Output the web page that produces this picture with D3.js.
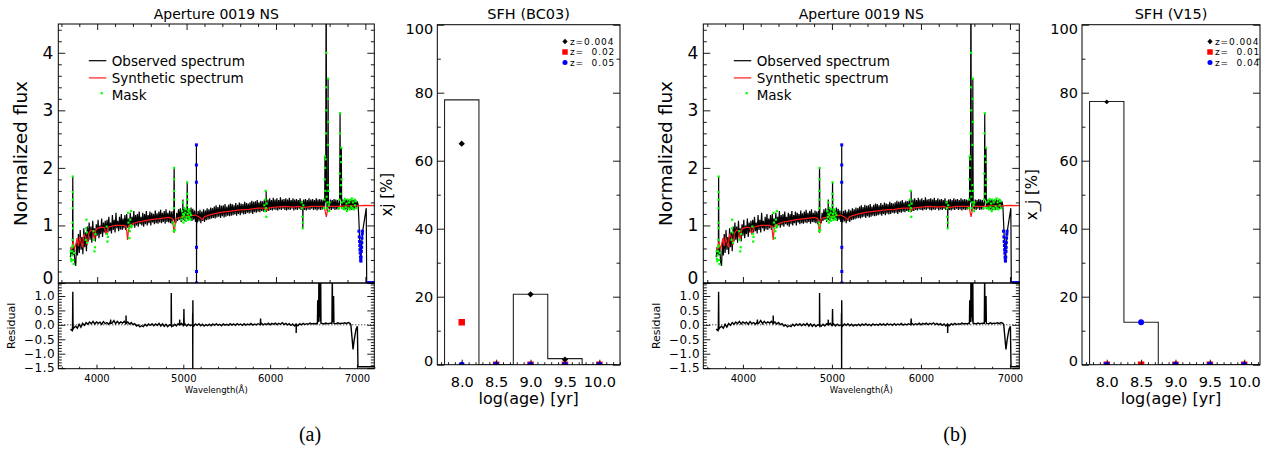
<!DOCTYPE html>
<html>
<head>
<meta charset="utf-8">
<script src="https://cdn.jsdelivr.net/npm/d3@7"></script>
<style>
  body { margin: 0; background: #fff; }
  svg { display: block; }
  svg text { font-family: "DejaVu Sans", sans-serif; fill: #000; }
</style>
</head>
<body>
<div id="chart"></div>
<script>
// observed spectrum, one value every 10 A starting at 3700 A
const obsStart = 3700, obsStep = 10;
const obsFlux = [
  0.45,0.62,0.50,0.48,0.62,0.35,0.30,0.72,0.48,0.85,0.52,0.92,0.58,0.80,0.50,0.95,0.62,0.88,0.55,0.98,
  0.72,1.05,0.75,0.98,0.70,1.08,0.80,0.95,0.72,1.02,0.82,1.10,0.78,1.00,0.85,1.12,0.80,1.05,0.88,1.08,
  0.85,1.10,0.88,1.15,0.90,1.05,0.86,1.18,0.92,1.10,0.88,1.22,0.95,1.08,0.90,1.15,0.93,1.20,0.92,1.12,
  0.95,1.18,0.92,1.20,0.96,1.12,0.98,1.22,0.95,1.15,1.00,1.25,0.96,1.18,1.00,1.20,0.98,1.24,1.02,1.15,
  1.00,1.22,0.98,1.20,1.02,1.25,1.00,1.18,1.04,1.24,1.00,1.22,1.05,1.20,1.02,1.26,1.04,1.21,1.03,1.24,
  1.05,1.27,1.04,1.22,1.06,1.25,1.03,1.28,1.06,1.22,1.05,1.26,1.04,1.24,1.02,1.25,1.90,1.10,1.04,1.22,
  1.08,1.28,1.10,1.30,1.06,1.26,1.10,1.32,1.08,1.28,1.12,1.30,1.09,1.27,1.10,1.31,1.08,1.29,1.10,1.26,
  1.06,1.28,1.05,1.25,1.07,1.27,1.04,1.24,1.08,1.28,1.06,1.26,1.09,1.30,1.10,1.28,1.11,1.31,1.12,1.30,
  1.13,1.33,1.12,1.35,1.14,1.32,1.15,1.36,1.13,1.34,1.16,1.35,1.14,1.37,1.15,1.33,1.17,1.36,1.16,1.38,
  1.17,1.37,1.18,1.35,1.19,1.39,1.17,1.36,1.20,1.40,1.18,1.38,1.21,1.37,1.19,1.41,1.20,1.39,1.22,1.38,
  1.21,1.40,1.22,1.43,1.20,1.41,1.23,1.42,1.22,1.44,1.24,1.40,1.23,1.43,1.25,1.42,1.24,1.45,1.25,1.42,
  1.26,1.45,1.25,1.47,1.27,1.44,1.26,1.48,1.28,1.45,1.27,1.47,1.26,1.44,1.28,1.49,1.27,1.45,1.29,1.46,
  1.27,1.47,1.26,1.45,1.28,1.48,1.27,1.44,1.29,1.47,1.26,1.45,1.28,1.46,1.27,1.44,1.29,1.47,1.27,1.43,
  1.28,1.45,1.27,1.46,1.26,1.44,1.28,1.47,1.27,1.45,1.29,1.46,1.27,1.44,1.28,1.47,1.26,1.45,1.28,1.46,
  1.27,1.45,1.28,1.44,1.30,1.40,4.60,1.40,1.60,1.35,1.28,1.45,1.27,1.44,1.29,1.46,1.27,1.45,1.28,1.44,
  1.28,1.40,1.60,2.00,1.30,1.45,1.27,1.46,1.28,1.45,1.27,1.44,1.29,1.46,1.27,1.45,1.28,1.44,1.29,1.45,
  1.30,1.42,1.35
];
// emission lines, bad pixel and the red end of the observed spectrum
const obsLines = [
  [3724,0.60],[3727,1.85],[3730,0.50],
  [4857,1.10],[4861,2.00],[4865,1.05],
  [4956,1.15],[4959,1.45],[4962,1.10],
  [5004,1.20],[5007,1.75],[5010,1.15],
  [5108,1.20],[5110,2.40],[5111,0.00],[5113,1.20],
  [5887,1.30],[5890,1.60],[5893,1.25],
  [6297,1.30],[6300,0.95],[6303,1.30],
  [6545,1.35],[6548,2.20],[6552,1.50],[6557,2.20],[6563,4.60],[6566,1.40],
  [6572,1.25],[6578,1.60],[6583,3.55],[6587,1.30],
  [6712,1.35],[6717,2.95],[6722,1.50],[6727,1.45],[6731,2.35],[6735,1.30],
  [6930,1.00],[6940,0.60],[6950,0.40],[6960,0.70],[6970,0.90],[6980,1.00],
  [6990,1.10],[7000,1.20],[7010,1.30],[7015,0.00],[7200,0.00]
];
// synthetic spectrum
const synSpec = [
  [3700,0.62],[3715,0.58],[3730,0.72],[3745,0.60],[3760,0.66],[3775,0.78],[3790,0.64],
  [3805,0.80],[3820,0.70],[3835,0.62],[3850,0.84],[3870,0.80],[3889,0.66],[3905,0.86],
  [3930,0.92],[3950,0.90],[3970,0.74],[3985,0.92],[4000,0.95],[4050,0.97],[4080,0.96],
  [4101,0.84],[4120,0.97],[4200,1.00],[4250,1.00],[4300,1.00],[4325,0.98],[4340,0.75],
  [4355,1.00],[4400,1.03],[4450,1.06],[4500,1.07],[4600,1.10],[4700,1.12],[4800,1.14],
  [4840,1.12],[4861,0.87],[4880,1.12],[4950,1.15],[5000,1.16],[5050,1.17],[5100,1.18],
  [5150,1.14],[5175,1.10],[5200,1.15],[5250,1.18],[5300,1.20],[5400,1.23],[5500,1.25],
  [5600,1.27],[5700,1.28],[5800,1.30],[5870,1.30],[5890,1.26],[5910,1.30],[6000,1.32],
  [6100,1.33],[6200,1.32],[6250,1.33],[6300,1.31],[6400,1.33],[6500,1.33],[6540,1.33],
  [6563,1.15],[6585,1.33],[6700,1.33],[6800,1.34],[6900,1.34],[7000,1.35],[7200,1.34]
];
// masked pixels (green)
const maskPts = [
  [3705,0.55],[3708,0.42],[3712,0.38],[3716,0.48],[3719,0.62],[3722,0.55],[3725,0.75],
  [3726,1.05],[3727,1.30],[3727,1.58],[3727,1.85],[3728,1.45],[3729,0.95],[3731,0.65],
  [3734,0.40],[3737,0.33],[3740,0.52],
  [3872,0.75],[3876,0.95],[3880,1.10],[3884,0.88],[3888,0.70],
  [3960,0.90],[3965,0.75],[3970,0.55],[3975,0.62],[3980,0.85],
  [4105,0.98],[4110,0.85],[4115,0.72],[4120,0.80],
  [4345,1.22],[4350,1.05],[4355,0.95],[4360,0.78],[4365,0.90],[4370,1.10],[4375,1.00],
  [4380,1.25],[4385,0.98],
  [4852,1.05],[4856,0.90],[4859,1.30],[4860,1.60],[4861,1.80],[4861,2.00],[4862,1.45],
  [4864,1.00],[4868,0.92],
  [4945,1.10],[4950,1.25],[4955,1.15],[4958,1.40],[4960,1.20],[4965,1.05],[4970,1.18],
  [4975,1.30],[4980,1.12],[4985,1.22],[4990,1.08],[4995,1.28],[5000,1.15],[5004,1.35],
  [5006,1.55],[5007,1.75],[5008,1.45],[5012,1.20],[5016,1.10],[5020,1.25],[5025,1.15],
  [5030,1.28],[5035,1.12],[5040,1.22],[5045,1.10],[5050,1.18],
  [5870,1.35],[5875,1.25],[5880,1.45],[5884,1.60],[5888,1.30],[5892,1.15],[5896,1.38],
  [6288,1.40],[6292,1.30],[6296,1.15],[6300,0.95],[6303,1.05],[6306,1.35],
  [6535,1.30],[6540,1.45],[6545,1.80],[6548,2.20],[6550,2.00],[6553,1.60],[6556,2.15],
  [6560,2.60],[6562,3.40],[6563,4.00],[6565,3.00],[6567,1.50],[6570,1.30],[6575,1.40],
  [6578,1.70],[6580,2.40],[6582,3.20],[6583,3.55],[6585,2.80],[6587,1.60],[6590,1.35],
  [6595,1.25],[6600,1.40],
  [6705,1.30],[6710,1.45],[6713,1.90],[6716,2.60],[6717,2.95],[6719,2.20],[6722,1.55],
  [6726,1.70],[6729,2.10],[6731,2.35],[6733,1.80],[6736,1.40],[6740,1.30],
  [6750,1.30],[6758,1.42],[6765,1.28],[6772,1.46],[6780,1.32],[6788,1.38],[6795,1.25],
  [6802,1.45],[6810,1.30],[6818,1.40],[6825,1.28],[6832,1.44],[6840,1.33],[6848,1.47],
  [6855,1.30],[6862,1.40],[6870,1.28],[6878,1.45],[6885,1.35],[6892,1.42],[6900,1.30]
];
// flagged pixels (blue)
const flagPts = [
  [5110,2.40],[5110,2.05],[5110,1.75],[5111,0.62],[5111,0.20],[5111,0.00],
  [6928,0.90],[6932,0.80],[6935,0.72],[6938,0.65],[6940,0.58],[6942,0.52],[6945,0.45],
  [6948,0.40],[6950,0.38],[6953,0.45],[6956,0.55],[6958,0.62],[6960,0.70],[6962,0.78],
  [6965,0.85],[6968,0.90],
  [7022,0],[7030,0],[7038,0],[7046,0],[7054,0],[7062,0],[7070,0],[7078,0],[7086,0],
  [7094,0],[7102,0],[7110,0],[7118,0],[7126,0]
];
// residual, one value every 20 A starting at 3700 A
const resStart = 3700, resStep = 20;
const resFlux = [
  -0.15,-0.20,-0.10,-0.05,-0.12,0.02,-0.08,0.05,-0.02,0.08,
  0.02,0.10,0.04,0.12,0.03,0.10,0.05,0.09,0.02,0.11,
  0.04,0.08,0.02,0.10,0.06,0.15,0.04,0.12,0.05,0.10,
  0.06,0.12,0.08,0.10,0.03,0.08,0.01,0.04,-0.04,0.00,
  -0.07,-0.03,-0.06,0.02,-0.04,0.03,-0.02,0.04,-0.03,0.03,
  -0.02,0.05,-0.04,0.03,-0.05,0.02,-0.06,0.00,-0.03,-0.05,
  0.02,-0.04,0.04,-0.02,0.05,-0.03,0.03,-0.04,0.02,-0.03,
  0.00,-0.04,0.03,-0.02,0.04,-0.03,0.02,-0.04,0.01,-0.03,
  0.02,-0.03,0.03,-0.02,0.04,-0.02,0.02,-0.03,0.03,-0.01,
  0.02,-0.02,0.04,-0.01,0.03,-0.02,0.04,0.00,0.03,-0.02,
  0.04,-0.01,0.03,0.00,0.05,-0.01,0.03,0.00,0.04,0.01,
  0.05,0.00,0.04,0.01,0.06,0.00,0.05,0.02,0.06,0.01,
  0.05,0.02,0.07,0.01,0.05,0.00,0.04,-0.02,0.03,-0.04,
  0.02,-0.03,0.04,0.00,0.05,0.01,0.04,0.02,0.06,0.03,
  0.05,0.03,0.06,0.10,0.12,0.05,0.03,0.06,0.04,0.05,
  0.06,0.20,0.05,0.04,0.07,0.04,0.06,0.05,0.07,0.04,
  0.08
];
const resLines = [
  [3724,-0.05],[3727,1.15],[3730,-0.15],
  [4160,0.04],[4163,0.18],[4166,0.05],
  [4337,0.05],[4340,0.32],[4343,0.05],
  [4858,-0.02],[4861,1.10],[4864,-0.03],
  [4956,0.00],[4959,0.18],[4962,0.00],
  [5004,0.00],[5007,0.55],[5010,0.00],
  [5106,0.00],[5108,0.42],[5109,-1.55],[5110,0.85],[5112,0.00],
  [5887,0.02],[5890,0.22],[5893,0.02],
  [6297,0.02],[6300,-0.28],[6303,0.02],
  [6545,0.05],[6548,0.85],[6551,0.10],[6558,0.20],[6561,1.80],[6565,1.80],[6568,0.30],
  [6578,0.30],[6582,1.80],[6586,0.05],
  [6712,0.05],[6716,1.80],[6720,0.20],[6727,0.10],[6731,1.00],[6735,0.05],
  [6920,0.05],[6930,0.00],[6945,-0.50],[6955,-0.85],[6965,-0.60],[6975,-0.40],
  [6990,-0.15],[7005,-0.05],[7012,-1.45],[7200,-1.45]
];

// star formation history, light fractions in %
const ageBins = [8.0, 8.5, 9.0, 9.5, 10.0];
const sfhTotalA = [77.9, 0, 20.7, 1.8, 0];
const sfhZ1A = [65.0, 0, 20.7, 1.5, 0];
const sfhZ2A = [12.5, 0, 0, 0, 0];
const sfhZ3A = [0, 0, 0, 0, 0];
const sfhTotalB = [77.4, 12.5, 0, 0, 0];
const sfhZ1B = [77.3, 0, 0, 0, 0];
const sfhZ2B = [0, 0, 0, 0, 0];
const sfhZ3B = [0, 12.5, 0, 0, 0];
const zLabelsA = ["z=0.004", "z=  0.02", "z=  0.05"];
const zLabelsB = ["z=0.004", "z=  0.01", "z=  0.04"];

const fluxTicks = [0, 1, 2, 3, 4];
const resTicks = [-1.5, -1.0, -0.5, 0.0, 0.5, 1.0];
const waveTicks = [4000, 5000, 6000, 7000];
const pctTicks = [0, 20, 40, 60, 80, 100];
const legendNames = ["Observed spectrum", "Synthetic spectrum", "Mask"];

const svg = d3.select("#chart").append("svg").attr("width", 1271).attr("height", 450);

const obsData = obsFlux.map((f, i) => [obsStart + i * obsStep, f]).concat(obsLines).sort((a, b) => a[0] - b[0]);
const resData = resFlux.map((f, i) => [resStart + i * resStep, f]).concat(resLines).sort((a, b) => a[0] - b[0]);

const diamond = { draw(ctx, size) { const r = Math.sqrt(size / 2); ctx.moveTo(0, -r); ctx.lineTo(r, 0); ctx.lineTo(0, r); ctx.lineTo(-r, 0); ctx.closePath(); } };
const minus = v => v.toFixed(1).replace("-", "\u2212");

// tick marks on one side, pointing inside the frame
function tickSet(axis, scale, vals, len, tf, fmt, pad, fs) {
  const a = axis(scale).tickValues(vals).tickSizeInner(-len).tickSizeOuter(0)
    .tickPadding(pad || 3).tickFormat(fmt || (() => ""));
  const t = svg.append("g").attr("transform", tf).call(a);
  t.select(".domain").remove();
  t.selectAll("line").attr("stroke", "#000").attr("stroke-width", 0.9);
  if (fs) t.selectAll("text").attr("font-size", fs).style("font-family", "DejaVu Sans");
  return t;
}
// nudge the end labels inside the frame, like the original plot does
function nudge(t, value, dy) {
  t.selectAll("text").filter(d => Math.abs(d - value) < 1e-9).attr("transform", `translate(0,${dy})`);
}
function inDom(s) { const d = s.domain(); const lo = Math.min(d[0], d[1]), hi = Math.max(d[0], d[1]); return v => v >= lo - 1e-9 && v <= hi + 1e-9; }
function clip(id, x0, y0, x1, y1) {
  svg.append("clipPath").attr("id", id).append("rect").attr("x", x0).attr("y", y0).attr("width", x1 - x0).attr("height", y1 - y0);
  return svg.append("g").attr("clip-path", `url(#${id})`);
}

function drawSpectrum(p) {
  const x = d3.scaleLinear().domain(p.xDom).range([p.left, p.right]);
  const y = d3.scaleLinear().domain([0, 4.5]).range([p.mid, p.top]);
  const xr = d3.scaleLinear().domain(p.xResDom).range([p.left, p.right]);
  const yr = d3.scaleLinear().domain([-1.52, 1.45]).range([p.bottom, p.mid]);

  // upper panel: spectra
  const gu = clip(p.id + "u", p.left, p.top, p.right, p.mid);
  gu.append("path").datum(obsData).attr("fill", "none").attr("stroke", "#000").attr("stroke-width", 1.2)
    .attr("d", d3.line().x(d => x(d[0])).y(d => y(d[1])));
  gu.append("path").datum(synSpec).attr("fill", "none").attr("stroke", "#ff1a1a").attr("stroke-width", 1.2)
    .attr("d", d3.line().x(d => x(d[0])).y(d => y(d[1])));
  gu.selectAll(".m").data(maskPts).enter().append("rect")
    .attr("x", d => x(d[0]) - 1.1).attr("y", d => y(d[1]) - 1.1).attr("width", 2.2).attr("height", 2.2).attr("fill", "#00ff00");
  gu.selectAll(".f").data(flagPts).enter().append("rect")
    .attr("x", d => x(d[0]) - 1.5).attr("y", d => y(d[1]) - 1.5).attr("width", 3).attr("height", 3).attr("fill", "#0000ff");

  // lower panel: residual
  const gr = clip(p.id + "r", p.left, p.mid, p.right, p.bottom);
  gr.append("line").attr("x1", p.left).attr("x2", p.right).attr("y1", yr(0)).attr("y2", yr(0))
    .attr("stroke", "#000").attr("stroke-dasharray", "1,2");
  gr.append("path").datum(resData).attr("fill", "none").attr("stroke", "#000").attr("stroke-width", 1.4)
    .attr("d", d3.line().x(d => xr(d[0])).y(d => yr(d[1])));

  // frames
  svg.append("rect").attr("x", p.left).attr("y", p.top).attr("width", p.right - p.left).attr("height", p.mid - p.top)
    .attr("fill", "none").attr("stroke", "#000");
  svg.append("rect").attr("x", p.left).attr("y", p.mid).attr("width", p.right - p.left).attr("height", p.bottom - p.mid)
    .attr("fill", "none").attr("stroke", "#000");

  // ticks
  const fluxMinor = d3.range(0, 4.51, 0.2).filter(v => Math.abs(v - Math.round(v)) > 1e-6);
  const resMinor = d3.range(-1.5, 1.451, 0.1).filter(v => Math.abs(v * 2 - Math.round(v * 2)) > 1e-6).filter(inDom(yr));
  const waveMinor = d3.range(3600, 7201, 200).filter(v => v % 1000 !== 0);
  nudge(tickSet(d3.axisLeft, y, fluxTicks, 7, `translate(${p.left},0)`, d => d, 5, 17), 0, -5);
  tickSet(d3.axisLeft, y, fluxMinor, 3.5, `translate(${p.left},0)`);
  tickSet(d3.axisRight, y, fluxTicks, 7, `translate(${p.right},0)`);
  tickSet(d3.axisRight, y, fluxMinor, 3.5, `translate(${p.right},0)`);
  tickSet(d3.axisTop, x, waveTicks, 6, `translate(0,${p.top})`);
  tickSet(d3.axisTop, x, waveMinor.filter(inDom(x)), 3, `translate(0,${p.top})`);
  tickSet(d3.axisBottom, x, waveTicks, 6, `translate(0,${p.mid})`);
  tickSet(d3.axisBottom, x, waveMinor.filter(inDom(x)), 3, `translate(0,${p.mid})`);
  const rl = tickSet(d3.axisLeft, yr, resTicks, 7, `translate(${p.left},0)`, minus, 3, 12);
  rl.selectAll("text").attr("letter-spacing", 0.6);
  nudge(rl, -1.5, -0.5);
  tickSet(d3.axisLeft, yr, resMinor, 3.5, `translate(${p.left},0)`);
  tickSet(d3.axisRight, yr, resTicks, 7, `translate(${p.right},0)`);
  tickSet(d3.axisRight, yr, resMinor, 3.5, `translate(${p.right},0)`);
  tickSet(d3.axisBottom, xr, waveTicks, 4, `translate(0,${p.bottom})`, d => d, 6.3, 10);
  tickSet(d3.axisBottom, xr, waveMinor.filter(inDom(xr)), 2, `translate(0,${p.bottom})`);

  // labels
  const cx = (p.left + p.right) / 2;
  svg.append("text").attr("x", cx).attr("y", 18.5).attr("text-anchor", "middle").attr("font-size", 14).text("Aperture 0019 NS");
  svg.append("text").attr("transform", `translate(${p.left - 31},${(p.top + p.mid) / 2}) rotate(-90)`)
    .attr("text-anchor", "middle").attr("font-size", 18.5).text("Normalized flux");
  svg.append("text").attr("transform", `translate(${p.left - 43},${(p.mid + p.bottom) / 2}) rotate(-90)`)
    .attr("text-anchor", "middle").attr("font-size", 11).text("Residual");
  svg.append("text").attr("x", cx).attr("y", 393).attr("text-anchor", "middle").attr("font-size", 8.5).text("Wavelength(\u00c5)");

  // legend
  const colors = ["#000", "#ff1a1a"];
  legendNames.forEach((name, i) => {
    const ly = 60.7 + i * 17.2;
    if (i < 2) {
      svg.append("line").attr("x1", p.left + 30.5).attr("x2", p.left + 48).attr("y1", ly).attr("y2", ly)
        .attr("stroke", colors[i]).attr("stroke-width", 1.2);
    } else {
      svg.append("rect").attr("x", p.left + 42.3).attr("y", ly - 3).attr("width", 2.2).attr("height", 2.2).attr("fill", "#00ff00");
    }
    svg.append("text").attr("x", p.left + 53.4).attr("y", ly + 4.8).attr("font-size", 13.5).text(name);
  });

  svg.append("text").attr("x", p.tagX).attr("y", 441).attr("text-anchor", "middle")
    .style("font-family", "'Liberation Serif', serif").attr("font-size", 20).text(p.tag);
}

function drawSFH(p) {
  const x = d3.scaleLinear().domain(p.xDom).range([p.left, p.right]);
  const y = d3.scaleLinear().domain([0, 100]).range([p.bottom, p.top]);
  const g = clip(p.id, p.left, p.top, p.right, p.bottom);

  // step outline of the total light fraction
  const pts = [[ageBins[0] - 0.25, 0]];
  p.total.forEach((v, i) => { pts.push([ageBins[i] - 0.25, v]); pts.push([ageBins[i] + 0.25, v]); });
  pts.push([ageBins[ageBins.length - 1] + 0.25, 0]);
  g.append("path").datum(pts).attr("fill", "none").attr("stroke", "#222").attr("stroke-width", 1.1)
    .attr("d", d3.line().x(d => x(d[0])).y(d => y(d[1])));

  // metallicity components
  const sym = [
    { vals: p.z1, type: diamond, size: p.dSize, fill: "#000" },
    { vals: p.z2, type: d3.symbolSquare, size: 42, fill: "#ff0000" },
    { vals: p.z3, type: d3.symbolCircle, size: 28, fill: "#0000ff" }
  ];
  sym.forEach(s => {
    g.selectAll(null).data(s.vals).enter().append("path")
      .attr("transform", (d, i) => `translate(${x(ageBins[i])},${y(d)})`)
      .attr("d", d3.symbol(s.type, s.size)).attr("fill", s.fill);
  });

  svg.append("rect").attr("x", p.left).attr("y", p.top).attr("width", p.right - p.left).attr("height", p.bottom - p.top)
    .attr("fill", "none").attr("stroke", "#000");

  const pctMinor = [10, 30, 50, 70, 90];
  const ageMinor = d3.range(7.7, 10.35, 0.1).filter(v => Math.abs(v * 2 - Math.round(v * 2)) > 1e-6).filter(inDom(x));
  const yl = tickSet(d3.axisLeft, y, pctTicks, 7, `translate(${p.left},0)`, d => d, 4, 14.5);
  nudge(yl, 0, -4);
  nudge(yl, 100, 4);
  tickSet(d3.axisLeft, y, pctMinor, 3.5, `translate(${p.left},0)`);
  tickSet(d3.axisRight, y, pctTicks, 7, `translate(${p.right},0)`);
  tickSet(d3.axisRight, y, pctMinor, 3.5, `translate(${p.right},0)`);
  tickSet(d3.axisBottom, x, ageBins, 5, `translate(0,${p.bottom})`, d3.format(".1f"), 12, 14.5);
  tickSet(d3.axisBottom, x, ageMinor, 2.5, `translate(0,${p.bottom})`);

  const cx = (p.left + p.right) / 2;
  svg.append("text").attr("x", cx).attr("y", 18.5).attr("text-anchor", "middle").attr("font-size", 14.5).text(p.title);
  svg.append("text").attr("x", cx).attr("y", 404).attr("text-anchor", "middle").attr("font-size", 16).text("log(age) [yr]");
  svg.append("text").attr("transform", `translate(${p.left - 45},${(p.top + p.bottom) / 2}) rotate(-90)`)
    .attr("text-anchor", "middle").attr("font-size", 15).text(p.yLabel);

  // legend
  p.zLabels.forEach((lab, i) => {
    const ly = 41.5 + i * 10.5;
    const s = sym[i];
    svg.append("path").attr("transform", `translate(${p.legX},${ly})`)
      .attr("d", d3.symbol(s.type, i === 0 ? 14 : (i === 1 ? 30 : 20))).attr("fill", s.fill);
    svg.append("text").attr("x", p.legX + 5).attr("y", ly + 3.3).attr("font-size", 9)
      .attr("letter-spacing", 0.9).attr("xml:space", "preserve").style("white-space", "pre").text(lab);
  });
}

drawSpectrum({ id: "sa", left: 58.3, right: 374.3, top: 24, mid: 283, bottom: 368.7,
  xDom: [3565, 7100], xResDom: [3560, 7200], tag: "(a)", tagX: 310 });
drawSpectrum({ id: "sb", left: 703.3, right: 1019.3, top: 24, mid: 283, bottom: 368.7,
  xDom: [3555, 7105], xResDom: [3555, 7105], tag: "(b)", tagX: 955 });
drawSFH({ id: "ha", left: 437.3, right: 620, top: 24.7, bottom: 364.7, xDom: [7.645, 10.30],
  total: sfhTotalA, z1: sfhZ1A, z2: sfhZ2A, z3: sfhZ3A, dSize: 20, title: "SFH (BC03)",
  yLabel: "xj [%]", zLabels: zLabelsA, legX: 565 });
drawSFH({ id: "hb", left: 1082, right: 1260, top: 24.7, bottom: 364.7, xDom: [7.64, 10.23],
  total: sfhTotalB, z1: sfhZ1B, z2: sfhZ2B, z3: sfhZ3B, dSize: 11, title: "SFH (V15)",
  yLabel: "x_j [%]", zLabels: zLabelsB, legX: 1210 });
</script>
</body>
</html>
